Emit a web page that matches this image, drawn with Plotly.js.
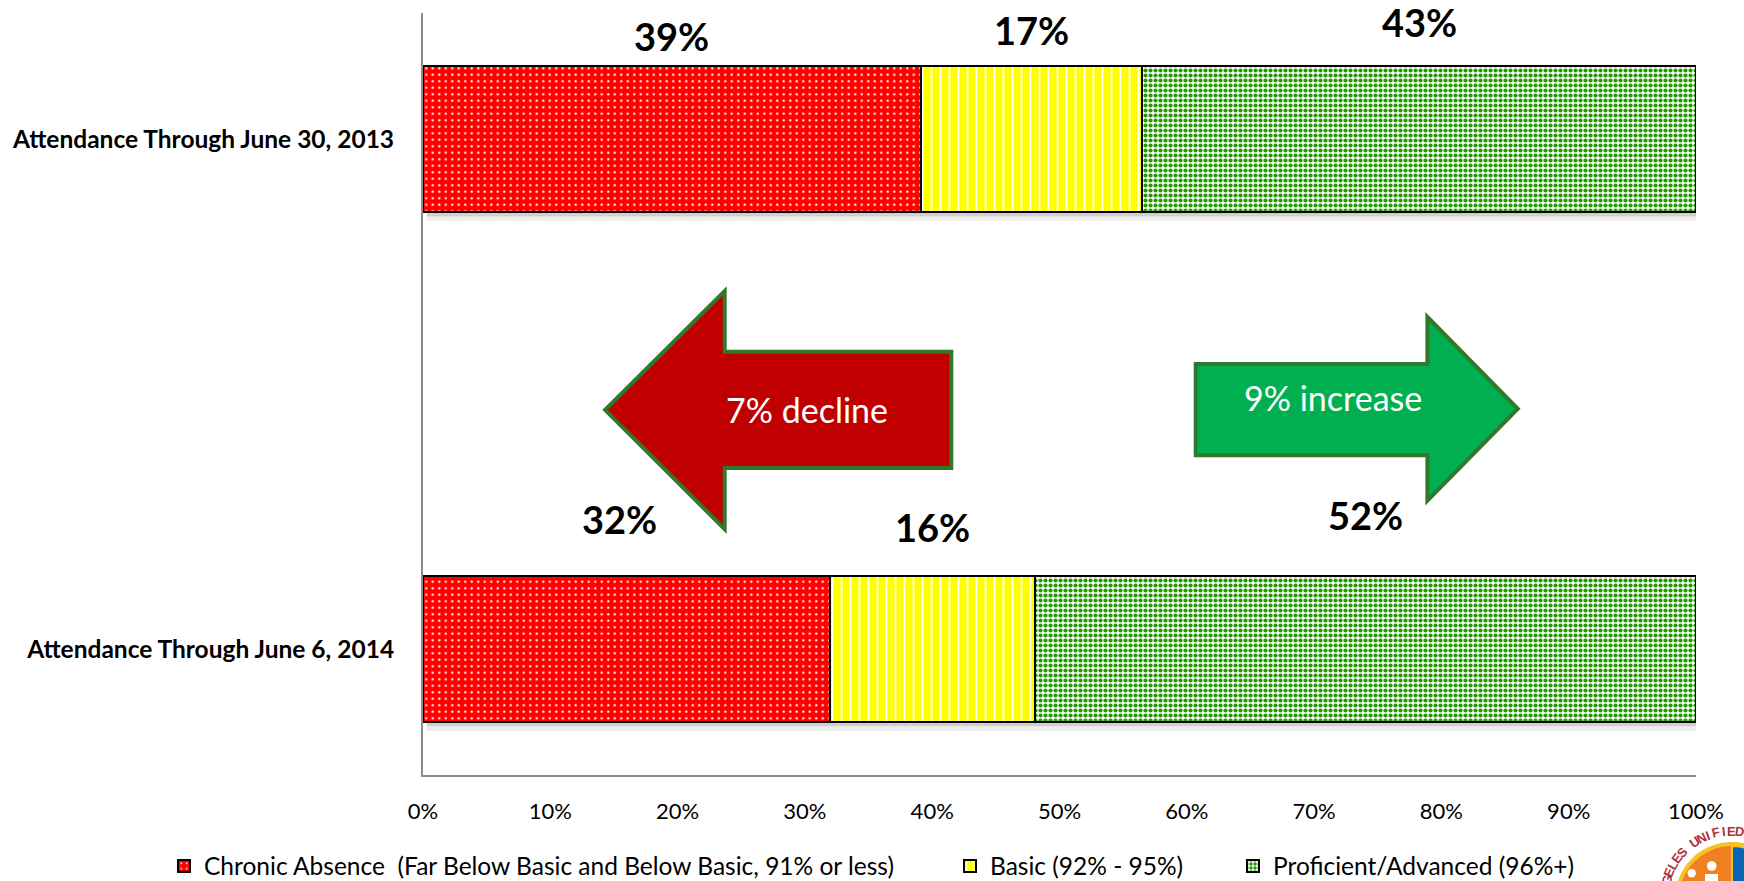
<!DOCTYPE html>
<html><head><meta charset="utf-8">
<script src="https://cdn.plot.ly/plotly-3.0.1.min.js"></script>
<style>html,body{margin:0;padding:0;background:#fff;}#chart{width:1744px;height:881px;}</style>
</head><body><div id="chart"></div>
<script>
// ---- data ----
const categories = ['Attendance Through June 30, 2013', 'Attendance Through June 6, 2014'];
const seriesNames = ['Chronic Absence \u00a0(Far Below Basic and Below Basic, 91% or less)', 'Basic (92% - 95%)', 'Proficient/Advanced (96%+)'];
const chronicAbsence = [39.1, 32.0];
const basic = [17.4, 16.1];
const proficientAdvanced = [43.5, 51.9];
const chronicLabels = ['39%', '32%'];
const basicLabels = ['17%', '16%'];
const proficientLabels = ['43%', '52%'];
const xTickVals = [0, 10, 20, 30, 40, 50, 60, 70, 80, 90, 100];
const xTickText = ['0%', '10%', '20%', '30%', '40%', '50%', '60%', '70%', '80%', '90%', '100%'];
const changeLabels = ['7% decline', '9% increase'];
const logoText = 'GELES UNIFIED';

// ---- layout helpers ----
const W = 1744, H = 881;
const M = {l: 423, r: 48, t: 13, b: 106, autoexpand: false};
const PW = W - M.l - M.r, PH = H - M.t - M.b;
const px2x = px => (px - M.l) / PW;
const py2y = py => (H - M.b - py) / PH;
const FONT = 'Lato, "Open Sans", sans-serif';
const barWidth = 0.285;
// category index on axis (bottom = 0)
const catIndex = {};
catIndex[categories[1]] = 0; catIndex[categories[0]] = 1;

const patterns = [
  {shape: '.', bgcolor: '#ff0000', fgcolor: '#ffffff', size: 6.5, solidity: 0.1, fillmode: 'replace'},
  {shape: '|', bgcolor: '#ffff00', fgcolor: '#ffffff', size: 9, solidity: 0.2, fillmode: 'replace'},
  {shape: '.', bgcolor: '#ffffff', fgcolor: '#229a00', size: 5, solidity: 0.55, fillmode: 'replace'}
];
const values = [chronicAbsence, basic, proficientAdvanced];
const legends = ['legend', 'legend2', 'legend3'];

const traces = values.map((v, i) => ({
  type: 'bar', orientation: 'h',
  x: v, y: categories, name: seriesNames[i],
  width: barWidth,
  legend: legends[i],
  marker: {color: patterns[i].bgcolor, pattern: patterns[i], line: {color: '#000', width: 2}},
  hoverinfo: 'x+name'
}));

// ---- value labels (centred above each segment) ----
const labelSets = [chronicLabels, basicLabels, proficientLabels];
const labelYOffset = [[0.201, 0.214, 0.229], [0.254, 0.239, 0.263]]; // [2013 row, 2014 row] offsets
const labelXShift = [[0, 0, 0], [-7, 0, 0]];
const annotations = [];
categories.forEach((c, ci) => {
  let cum = 0;
  values.forEach((v, si) => {
    const centre = cum + v[ci] / 2;
    cum += v[ci];
    const idx = catIndex[c];
    annotations.push({
      x: centre, y: idx + (idx === 1 ? labelYOffset[0][si] : labelYOffset[1][si]),
      xshift: idx === 1 ? labelXShift[0][si] : labelXShift[1][si],
      xref: 'x', yref: 'y', text: labelSets[si][ci], showarrow: false,
      font: {family: FONT, size: 38, color: '#000', weight: 'bold'}
    });
  });
});

// ---- arrows ----
const pathOf = pts => 'M' + pts.map(p => p[0] + ',' + p[1]).join(' L') + ' Z';
const redArrow = [[14.3, 0.469], [23.7, 0.702], [23.7, 0.583], [41.5, 0.583], [41.5, 0.355], [23.7, 0.355], [23.7, 0.235]];
const greenArrow = [[60.7, 0.559], [78.9, 0.559], [78.9, 0.651], [86.0, 0.471], [78.9, 0.291], [78.9, 0.380], [60.7, 0.380]];
const shapes = [
  {type: 'path', xref: 'x', yref: 'y', path: pathOf(redArrow), fillcolor: '#c00000', line: {color: '#31782b', width: 4}},
  {type: 'path', xref: 'x', yref: 'y', path: pathOf(greenArrow), fillcolor: '#00b050', line: {color: '#31782b', width: 4}}
];
annotations.push({x: 30.2, y: 0.469, xref: 'x', yref: 'y', text: changeLabels[0], showarrow: false,
  font: {family: FONT, size: 34, color: '#fff'}});
annotations.push({x: 71.5, y: 0.493, xref: 'x', yref: 'y', text: changeLabels[1], showarrow: false,
  font: {family: FONT, size: 34, color: '#fff'}});

// ---- bar shadows ----
[0, 1].forEach(idx => {
  const yb = idx - barWidth / 2;
  shapes.push({type: 'rect', xref: 'x', yref: 'y', layer: 'below', x0: 0.3, x1: 100.3, y0: yb - 0.018, y1: yb,
    fillcolor: 'rgba(0,0,0,0.07)', line: {width: 0}});
  shapes.push({type: 'rect', xref: 'x', yref: 'y', layer: 'below', x0: 0.3, x1: 100.3, y0: yb - 0.009, y1: yb,
    fillcolor: 'rgba(0,0,0,0.12)', line: {width: 0}});
});

// ---- partial logo (bottom right corner) ----
const cx = px2x(1732), cy = py2y(899);
const circ = (r, color) => ({type: 'circle', xref: 'paper', yref: 'paper', xsizemode: 'pixel', ysizemode: 'pixel',
  xanchor: cx, yanchor: cy, x0: -r, x1: r, y0: -r, y1: r, fillcolor: color, line: {width: 0}});
shapes.push(circ(57, '#f6c324'));
shapes.push(circ(53, '#f08122'));
const wedge = ['M0,0', 'L0,53'];
for (let a = 90; a >= 0; a -= 5) wedge.push('L' + (53 * Math.cos(a * Math.PI / 180)).toFixed(1) + ',' + (53 * Math.sin(a * Math.PI / 180)).toFixed(1));
shapes.push({type: 'path', xref: 'paper', yref: 'paper', xsizemode: 'pixel', ysizemode: 'pixel', xanchor: cx, yanchor: cy,
  path: wedge.join(' ') + ' Z', fillcolor: '#0a64b4', line: {color: '#f6c324', width: 2}});
const headC = (dx, dy, r) => ({type: 'circle', xref: 'paper', yref: 'paper', xsizemode: 'pixel', ysizemode: 'pixel',
  xanchor: cx, yanchor: cy, x0: dx - r, x1: dx + r, y0: dy - r, y1: dy + r, fillcolor: '#fff', line: {width: 0}});
shapes.push(headC(-40.3, 25.7, 4.2));
shapes.push(headC(-20.3, 33, 4.8));
shapes.push({type: 'path', xref: 'paper', yref: 'paper', xsizemode: 'pixel', ysizemode: 'pixel', xanchor: cx, yanchor: cy,
  path: 'M-46,0 L-46,18 L-35,18 L-35,0 Z', fillcolor: '#fff', line: {width: 0}});
shapes.push({type: 'path', xref: 'paper', yref: 'paper', xsizemode: 'pixel', ysizemode: 'pixel', xanchor: cx, yanchor: cy,
  path: 'M-27,0 L-27,25 L-14,25 L-14,0 Z', fillcolor: '#fff', line: {width: 0}});
logoText.split('').forEach((ch, i) => {
  const ang = 164 - i * 6.7;
  const r = 68;
  const pxX = 1732 + r * Math.cos(ang * Math.PI / 180);
  const pxY = 899 - r * Math.sin(ang * Math.PI / 180);
  annotations.push({xref: 'paper', yref: 'paper', x: px2x(pxX), y: py2y(pxY), text: ch, showarrow: false,
    xanchor: 'center', yanchor: 'middle', borderpad: 0,
    textangle: 90 - ang, font: {family: 'Liberation Sans, Arial, sans-serif', size: 13, color: '#b0303c', weight: 'bold'}});
});

const legendCommon = {orientation: 'h', yanchor: 'middle', xanchor: 'left', y: py2y(866),
  font: {family: FONT, size: 24.5, color: '#000'}, bgcolor: 'rgba(0,0,0,0)', itemwidth: 30};

const layout = {
  width: W, height: H, margin: M,
  paper_bgcolor: '#fff', plot_bgcolor: '#fff',
  barmode: 'stack',
  showlegend: true,
  font: {family: FONT, color: '#000'},
  xaxis: {range: [0, 100], tickvals: xTickVals, ticktext: xTickText, showgrid: false, zeroline: false,
    showline: true, linecolor: '#8c8c8c', linewidth: 2, ticks: '', ticklabelstandoff: 16,
    tickfont: {family: FONT, size: 22, color: '#000'}, fixedrange: true},
  yaxis: {type: 'category', categoryorder: 'array', categoryarray: [categories[1], categories[0]],
    range: [-0.247, 1.247], showgrid: false, zeroline: false, showline: true, linecolor: '#8c8c8c', linewidth: 2,
    ticks: '', ticklabelstandoff: 22, tickfont: {family: FONT, size: 24.5, color: '#000', weight: 'bold'}, fixedrange: true},
  legend: Object.assign({}, legendCommon, {x: px2x(164)}),
  legend2: Object.assign({}, legendCommon, {x: px2x(950)}),
  legend3: Object.assign({}, legendCommon, {x: px2x(1233)}),
  shapes: shapes,
  annotations: annotations
};

Plotly.newPlot('chart', traces, layout, {displayModeBar: false, responsive: false});
</script>
</body></html>
